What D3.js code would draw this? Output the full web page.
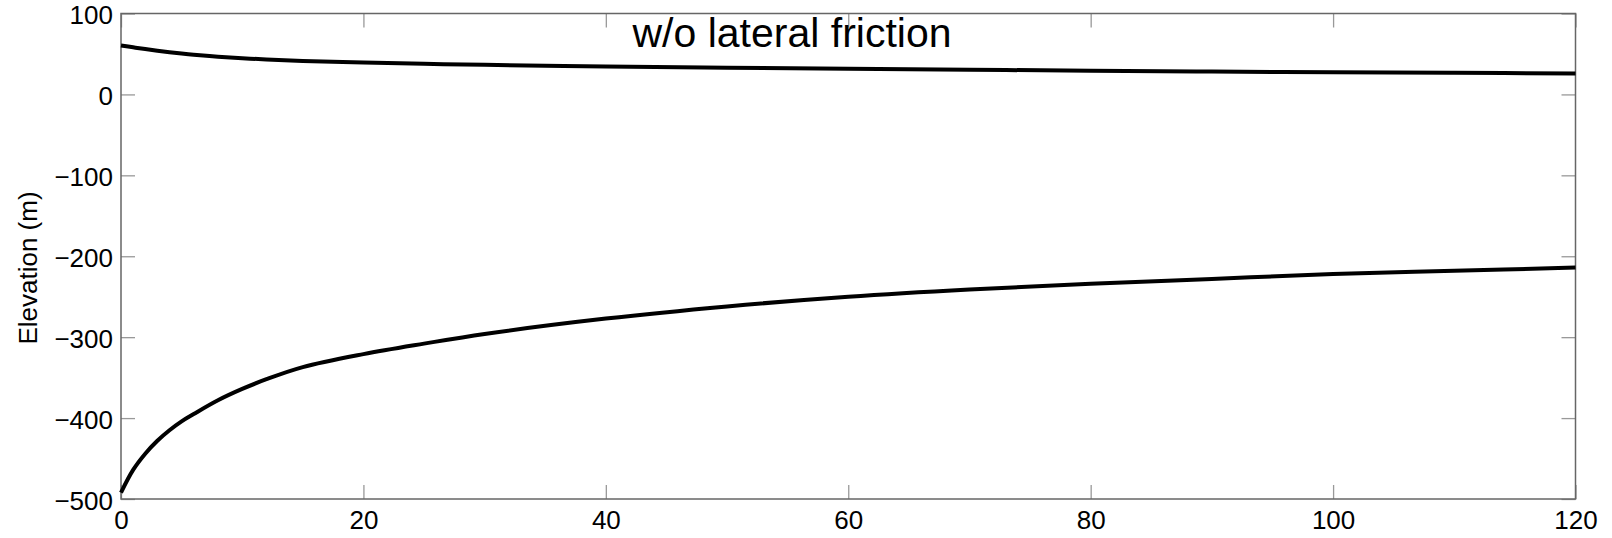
<!DOCTYPE html>
<html>
<head>
<meta charset="utf-8">
<script src="https://cdn.jsdelivr.net/npm/d3@7"></script>
<style>
  body { margin: 0; background: #fff; }
  text { font-family: "Liberation Sans", Arial, Helvetica, sans-serif; fill: #000; }
</style>
</head>
<body>
<script>
// distance along profile (x) and the two elevation curves
const distance = [0, 1, 2, 3, 4, 5, 6, 8, 10, 12, 15, 20, 25, 30, 40, 50, 60, 70, 80, 90, 100, 110, 120];
const surface = [60.5, 58.2, 56, 54, 52.2, 50.5, 49, 46.6, 44.7, 43.2, 41.4, 39.3, 37.8, 36.6, 34.5, 33, 31.7, 30.5, 29.3, 28.3, 27.4, 26.7, 26];
const bed = [-492, -464, -444, -428, -415, -404, -395, -378, -364, -352, -337, -321, -308, -296, -277, -262, -250, -241, -234, -228, -222, -218, -214];
const xTicks = [0, 20, 40, 60, 80, 100, 120];
const yTicks = [100, 0, -100, -200, -300, -400, -500];

const W = 1612, H = 538;
const m = { left: 121, right: 1575.5, top: 13.5, bottom: 499 };

const svg = d3.select("body").append("svg")
    .attr("width", W)
    .attr("height", H);

const x = d3.scaleLinear().domain([0, 120]).range([m.left, m.right]);
const y = d3.scaleLinear().domain([-500, 100]).range([m.bottom, m.top]);

const tickLen = 14;
const tickColor = "#999";

// axes: bottom/left with labels, top/right mirror ticks
const gx = svg.append("g")
    .attr("transform", `translate(0,${m.bottom})`)
    .call(d3.axisBottom(x).tickValues(xTicks).tickSize(-tickLen).tickPadding(12).tickFormat(d3.format("d")));
const gy = svg.append("g")
    .attr("transform", `translate(${m.left},0)`)
    .call(d3.axisLeft(y).tickValues(yTicks).tickSize(-tickLen).tickPadding(8)
      .tickFormat(d => d < 0 ? "\u2212" + Math.abs(d) : d));
const gt = svg.append("g")
    .attr("transform", `translate(0,${m.top})`)
    .call(d3.axisTop(x).tickValues(xTicks).tickSize(-tickLen).tickFormat(""));
const gr = svg.append("g")
    .attr("transform", `translate(${m.right},0)`)
    .call(d3.axisRight(y).tickValues(yTicks).tickSize(-tickLen).tickFormat(""));

[gx, gy, gt, gr].forEach(g => {
  g.select(".domain").remove();
  g.selectAll(".tick line").attr("stroke", tickColor).attr("stroke-width", 1.3);
});
gx.selectAll(".tick text").attr("font-size", 26).attr("dy", "0.71em");
gy.selectAll(".tick text").attr("font-size", 26).attr("dy", "0.4em");

// frame
svg.append("rect")
    .attr("x", m.left).attr("y", m.top)
    .attr("width", m.right - m.left).attr("height", m.bottom - m.top)
    .attr("fill", "none")
    .attr("stroke", "#666")
    .attr("stroke-width", 1.5);

const line = d3.line().x((d, i) => x(distance[i])).y(d => y(d)).curve(d3.curveCatmullRom.alpha(0.5));

svg.append("path").datum(surface)
    .attr("d", line)
    .attr("fill", "none").attr("stroke", "#000").attr("stroke-width", 4);
svg.append("path").datum(bed)
    .attr("d", line)
    .attr("fill", "none").attr("stroke", "#000").attr("stroke-width", 4);

svg.append("text")
    .attr("x", 792).attr("y", 47)
    .attr("text-anchor", "middle")
    .attr("font-size", 41)
    .text("w/o lateral friction");

svg.append("text")
    .attr("transform", "translate(37,268) rotate(-90)")
    .attr("text-anchor", "middle")
    .attr("font-size", 26)
    .text("Elevation (m)");
</script>
</body>
</html>
